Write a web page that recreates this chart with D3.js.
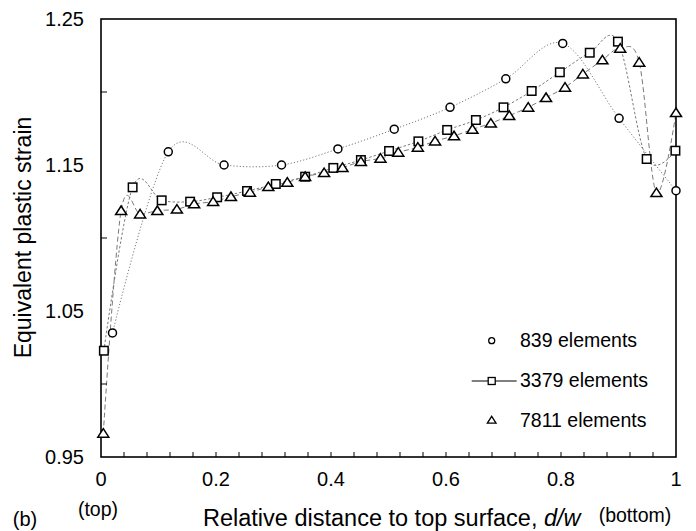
<!DOCTYPE html>
<html>
<head>
<meta charset="utf-8">
<script src="https://cdn.jsdelivr.net/npm/d3@7"></script>
<style>
  html, body { margin: 0; padding: 0; background: #fff; }
  svg text { font-family: "Liberation Sans", Arial, sans-serif; fill: #000; }
</style>
</head>
<body>
<div id="chart"></div>
<script>
// Equivalent plastic strain vs relative depth, three mesh densities

const dist839 = [0.02, 0.117, 0.214, 0.314, 0.412, 0.51, 0.607, 0.704, 0.803, 0.901, 1.0];
const strain839 = [1.035, 1.159, 1.150, 1.150, 1.161, 1.1745, 1.1895, 1.209, 1.2333, 1.182, 1.1324];

const dist3379 = [0.005, 0.055, 0.1055, 0.155, 0.202, 0.254, 0.304, 0.355, 0.404, 0.452, 0.501,
  0.552, 0.602, 0.652, 0.70, 0.749, 0.798, 0.85, 0.899, 0.949, 0.999];
const strain3379 = [1.0228, 1.1347, 1.1258, 1.1249, 1.1279, 1.1322, 1.137, 1.142, 1.148, 1.1534, 1.1596,
  1.1662, 1.174, 1.1808, 1.1895, 1.2007, 1.2135, 1.2269, 1.2345, 1.1541, 1.1598];

const dist7811 = [0.004, 0.035, 0.068, 0.098, 0.132, 0.162, 0.195, 0.226, 0.259, 0.291, 0.324,
  0.355, 0.388, 0.42, 0.452, 0.486, 0.517, 0.551, 0.581, 0.614, 0.646, 0.678, 0.71, 0.743,
  0.774, 0.807, 0.838, 0.872, 0.903, 0.936, 0.966, 1.0];
const strain7811 = [0.9662, 1.1187, 1.1164, 1.1187, 1.1197, 1.1233, 1.1249, 1.1283, 1.1313, 1.1351, 1.1381,
  1.142, 1.1447, 1.1482, 1.1523, 1.1546, 1.1587, 1.1621, 1.1664, 1.1699, 1.1744, 1.1786, 1.1838, 1.1895,
  1.1961, 1.2032, 1.2123, 1.2219, 1.2299, 1.2203, 1.131, 1.1858];

const seriesNames = ["839 elements", "3379 elements", "7811 elements"];

const xTickValues = [0, 0.2, 0.4, 0.6, 0.8, 1];
const xTickLabels = ["0", "0.2", "0.4", "0.6", "0.8", "1"];
const xMinorTicks = [0.04, 0.08, 0.12, 0.16, 0.2, 0.24, 0.28, 0.32, 0.36, 0.4, 0.44, 0.48,
  0.52, 0.56, 0.6, 0.64, 0.68, 0.72, 0.76, 0.8, 0.84, 0.88, 0.92, 0.96];
const yTickValues = [0.95, 1.05, 1.15, 1.25];
const yTickLabels = ["0.95", "1.05", "1.15", "1.25"];
const yMinorTicks = [1.0, 1.1, 1.2];

(function () {
  const width = 696;
  const height = 531;
  const margin = { top: 19, right: 20, bottom: 74, left: 101 };

  const svg = d3.select("#chart")
    .append("svg")
    .attr("width", width)
    .attr("height", height);

  const x = d3.scaleLinear()
    .domain([0, 1])
    .range([margin.left, width - margin.right]);

  const y = d3.scaleLinear()
    .domain([0.95, 1.25])
    .range([height - margin.bottom, margin.top]);

  const series = [
    { name: seriesNames[0], shape: "circle", dash: "1.2,2", pts: dist839.map((d, i) => [d, strain839[i]]) },
    { name: seriesNames[1], shape: "square", dash: "2.5,2", pts: dist3379.map((d, i) => [d, strain3379[i]]) },
    { name: seriesNames[2], shape: "triangle", dash: "5,3", pts: dist7811.map((d, i) => [d, strain7811[i]]) }
  ];

  const line = d3.line()
    .x(d => x(d[0]))
    .y(d => y(d[1]))
    .curve(d3.curveCardinal.tension(0));

  // lines first
  svg.selectAll("path.series-line")
    .data(series)
    .enter()
    .append("path")
    .attr("class", "series-line")
    .attr("fill", "none")
    .attr("stroke", "#7a7a7a")
    .attr("stroke-width", 1)
    .attr("stroke-dasharray", d => d.dash)
    .attr("d", d => line(d.pts));

  // plot frame
  svg.append("rect")
    .attr("x", x(0))
    .attr("y", y(1.25))
    .attr("width", x(1) - x(0))
    .attr("height", y(0.95) - y(1.25))
    .attr("fill", "none")
    .attr("stroke", "#000")
    .attr("stroke-width", 1.6);

  // inner ticks
  svg.append("g")
    .selectAll("line")
    .data(xMinorTicks)
    .enter()
    .append("line")
    .attr("x1", d => x(d))
    .attr("x2", d => x(d))
    .attr("y1", y(0.95))
    .attr("y2", y(0.95) - 5)
    .attr("stroke", "#000")
    .attr("stroke-width", 1);

  svg.append("g")
    .selectAll("line")
    .data(yMinorTicks)
    .enter()
    .append("line")
    .attr("x1", x(0))
    .attr("x2", x(0) + 6)
    .attr("y1", d => y(d))
    .attr("y2", d => y(d))
    .attr("stroke", "#000")
    .attr("stroke-width", 1);

  function marker(sel, shape, s) {
    if (shape === "circle") {
      sel.append("circle").attr("r", s * 0.5);
    } else if (shape === "square") {
      sel.append("rect")
        .attr("x", -s * 0.5).attr("y", -s * 0.5)
        .attr("width", s).attr("height", s);
    } else {
      const h = s * 0.9;
      sel.append("path")
        .attr("d", `M0,${-h * 0.55}L${s * 0.58},${h * 0.45}L${-s * 0.58},${h * 0.45}Z`);
    }
  }

  const sizes = { circle: 8, square: 8.5, triangle: 9.5 };

  series.forEach(s => {
    const g = svg.append("g")
      .attr("fill", "#fff")
      .attr("stroke", "#000")
      .attr("stroke-width", 1.5);
    s.pts.forEach(p => {
      const m = g.append("g").attr("transform", `translate(${x(p[0])},${y(p[1])})`);
      marker(m, s.shape, sizes[s.shape]);
    });
  });

  // tick labels
  svg.append("g")
    .selectAll("text")
    .data(xTickValues)
    .enter()
    .append("text")
    .attr("x", d => x(d))
    .attr("y", 486)
    .attr("text-anchor", "middle")
    .style("font-size", "20px")
    .text((d, i) => xTickLabels[i]);

  svg.append("g")
    .selectAll("text")
    .data(yTickValues)
    .enter()
    .append("text")
    .attr("x", 84)
    .attr("y", d => y(d))
    .attr("dy", "0.35em")
    .attr("text-anchor", "end")
    .style("font-size", "20px")
    .text((d, i) => yTickLabels[i]);

  svg.append("text")
    .attr("x", x(0) - 3)
    .attr("y", 516)
    .attr("text-anchor", "middle")
    .style("font-size", "19.5px")
    .text("(top)");

  svg.append("text")
    .attr("x", 635)
    .attr("y", 522)
    .attr("text-anchor", "middle")
    .style("font-size", "19.5px")
    .text("(bottom)");

  svg.append("text")
    .attr("x", 25)
    .attr("y", 526)
    .attr("text-anchor", "middle")
    .style("font-size", "20px")
    .text("(b)");

  const xTitle = svg.append("text")
    .attr("x", 203)
    .attr("y", 526)
    .style("font-size", "23.5px");
  xTitle.append("tspan").text("Relative distance to top surface, ");
  xTitle.append("tspan").style("font-style", "italic").text("d/w");

  svg.append("text")
    .attr("transform", `translate(31,${(115 + 360) / 2}) rotate(-90)`)
    .attr("text-anchor", "middle")
    .style("font-size", "23px")
    .text("Equivalent plastic strain");

  // legend
  const legendRows = [
    { y: 340.7, base: 347, shape: "circle", size: 6 },
    { y: 381, base: 386.5, shape: "square", size: 7 },
    { y: 420, base: 426.5, shape: "triangle", size: 7.5 }
  ];
  const legend = svg.append("g");
  legend.append("line")
    .attr("x1", 471.7).attr("x2", 516.7)
    .attr("y1", legendRows[1].y).attr("y2", legendRows[1].y)
    .attr("stroke", "#000").attr("stroke-width", 1);
  legendRows.forEach((r, i) => {
    const m = legend.append("g")
      .attr("transform", `translate(491.7,${r.y})`)
      .attr("fill", "#fff")
      .attr("stroke", "#000")
      .attr("stroke-width", 1.3);
    marker(m, r.shape, r.size);
    legend.append("text")
      .attr("x", 520)
      .attr("y", r.base)
      .style("font-size", "19.5px")
      .text(seriesNames[i]);
  });
})();
</script>
</body>
</html>
